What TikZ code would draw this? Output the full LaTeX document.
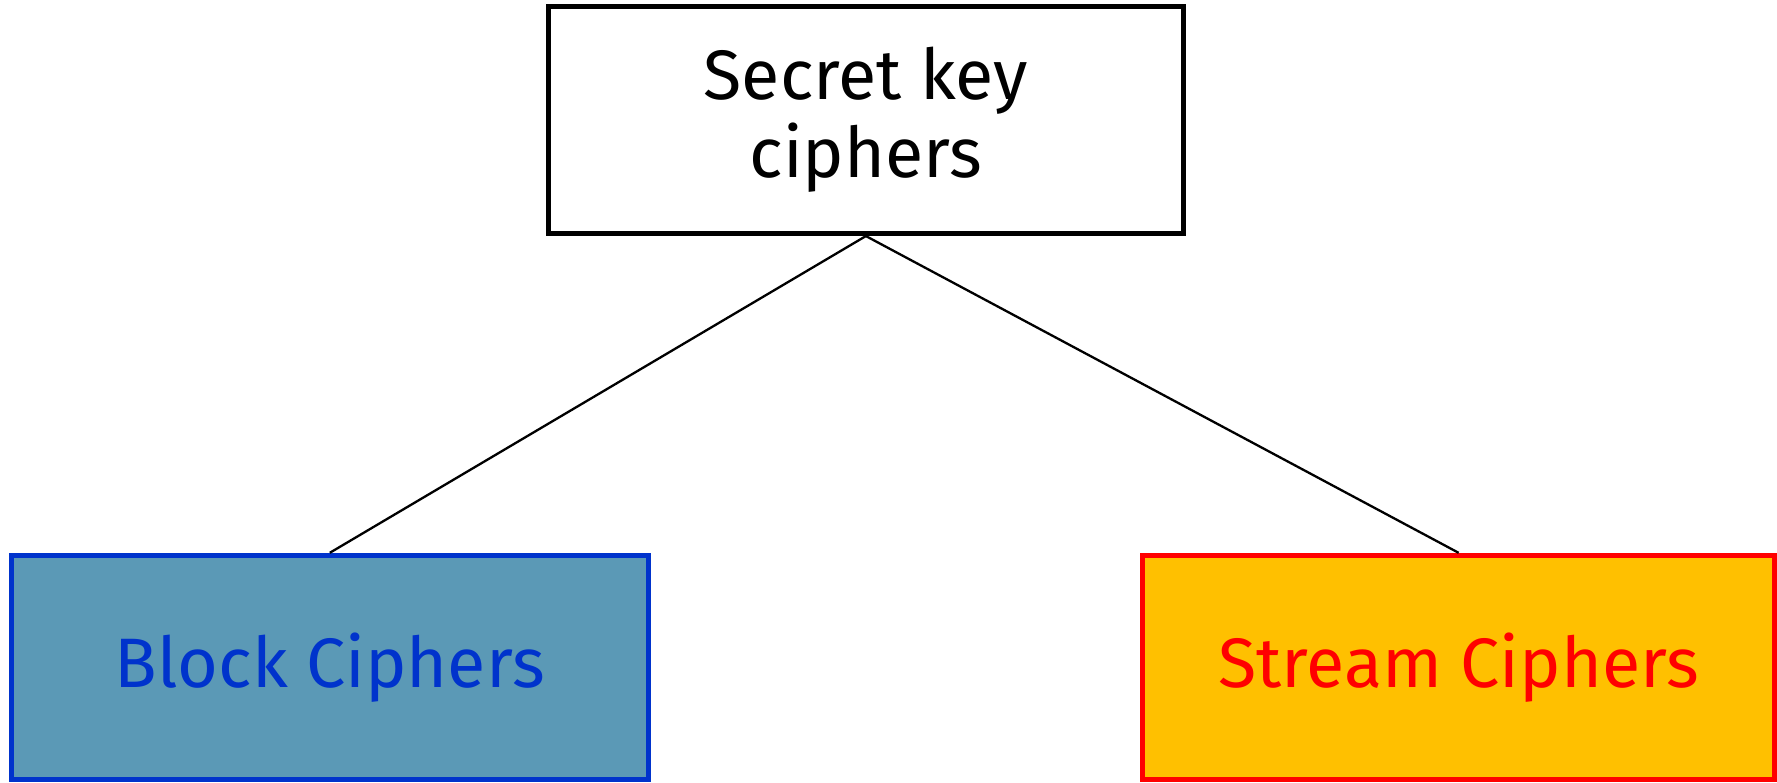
\documentclass[tikz,border=0pt]{standalone}
\usepackage{fontspec}
\setmainfont{Fira Sans}
\definecolor{blockfill}{HTML}{5B99B6}
\definecolor{blockline}{HTML}{0033CC}
\definecolor{streamfill}{HTML}{FFC000}
\definecolor{streamline}{HTML}{FF0000}
\tikzset{
  cipherbox/.style={draw, line width=5pt, minimum width=#1, inner sep=0pt, font=\fontsize{70}{78}\selectfont, align=center},
  link/.style={draw=black, line width=2.3pt}
}
\begin{document}
\begin{tikzpicture}[x=1pt,y=-1pt]
  \useasboundingbox (0,0) rectangle (1777,782);
  \node[cipherbox=634.7pt, minimum height=226.7pt, fill=white] (top) at (865.9,120.2) {Secret key\\ciphers};
  \node[cipherbox=637pt, minimum height=224.4pt, draw=blockline, fill=blockfill, text=blockline] (block) at (329.8,667.5) {Block Ciphers};
  \node[cipherbox=632.4pt, minimum height=224.4pt, draw=streamline, fill=streamfill, text=streamline] (stream) at (1458.6,667.5) {Stream Ciphers};
  \draw[link] (top.south) -- (block.north);
  \draw[link] (top.south) -- (stream.north);
\end{tikzpicture}
\end{document}
